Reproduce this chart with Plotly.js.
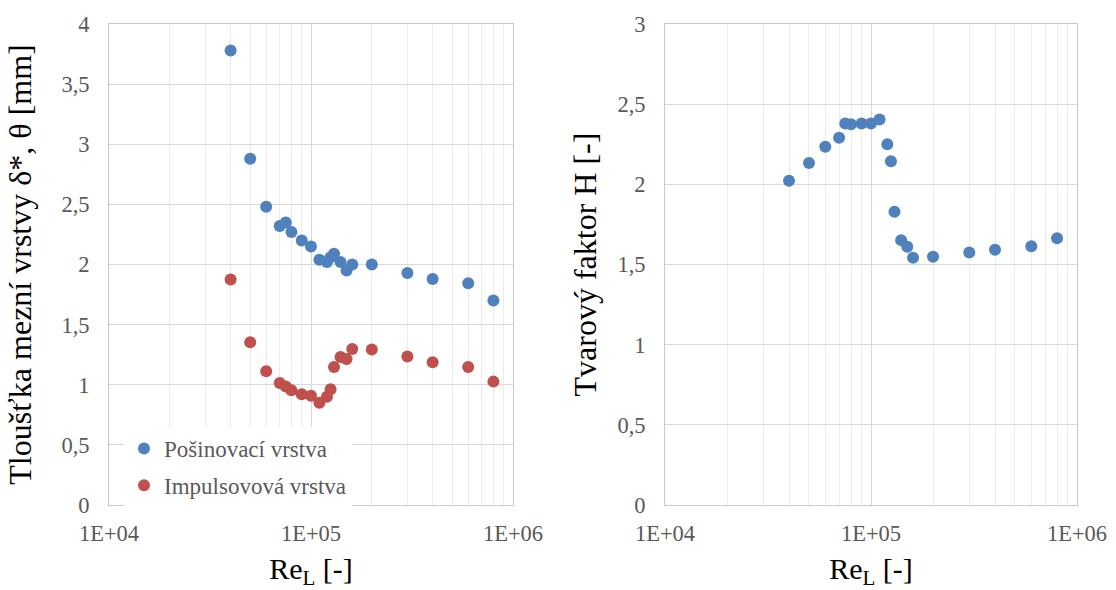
<!DOCTYPE html>
<html>
<head>
<meta charset="utf-8">
<script src="https://cdn.plot.ly/plotly-3.0.1.min.js"></script>
<style>
html,body{margin:0;padding:0;background:#fff;}
#chart{width:1116px;height:590px;}
#chart text{font-family:"Liberation Serif","Times New Roman",serif !important;}
</style>
</head>
<body>
<div id="chart"></div>
<script>
// Reynolds numbers (x)
const reynolds = [40000, 50000, 60000, 70000, 75000, 80000, 90000, 100000, 110000, 120000, 125000, 130000, 140000, 150000, 160000, 200000, 300000, 400000, 600000, 800000];
// Displacement thickness delta* [mm]
const displacementThickness = [3.78, 2.88, 2.48, 2.32, 2.35, 2.27, 2.20, 2.15, 2.04, 2.02, 2.06, 2.09, 2.02, 1.95, 2.00, 2.00, 1.93, 1.88, 1.845, 1.70];
// Momentum thickness theta [mm]
const momentumThickness = [1.875, 1.353, 1.112, 1.015, 0.985, 0.955, 0.921, 0.909, 0.851, 0.90, 0.962, 1.148, 1.231, 1.215, 1.298, 1.293, 1.234, 1.187, 1.148, 1.026];
// Shape factor H [-]
const shapeFactor = [2.023, 2.133, 2.235, 2.29, 2.379, 2.375, 2.379, 2.379, 2.404, 2.25, 2.144, 1.829, 1.652, 1.61, 1.542, 1.548, 1.575, 1.592, 1.614, 1.664];

const seriesNames = ['Pošinovací vrstva', 'Impulsovová vrstva'];
const xTickVals = [1e4, 1e5, 1e6];
const xTickText = ['1E+04', '1E+05', '1E+06'];
const yLeftTickVals = [0, 0.5, 1, 1.5, 2, 2.5, 3, 3.5, 4];
const yLeftTickText = ['0', '0,5', '1', '1,5', '2', '2,5', '3', '3,5', '4'];
const yRightTickVals = [0, 0.5, 1, 1.5, 2, 2.5, 3];
const yRightTickText = ['0', '0,5', '1', '1,5', '2', '2,5', '3'];

const minorVals = [];
[1e4, 1e5].forEach(d => { for (let k = 2; k <= 9; k++) minorVals.push(k * d); });

const FONT = '"Liberation Serif", "Times New Roman", serif';
const BLUE = '#4F81BD', RED = '#C0504D';
const GRID = '#d9d9d9', MINOR = '#ececec', LINE = '#c8c8c8', TICKC = '#595959';
const PAD = '\u00A0\u00A0\u00A0';

const traces = [
  {x: reynolds, y: displacementThickness, type: 'scatter', mode: 'markers', name: seriesNames[0],
   marker: {color: BLUE, size: 12}, xaxis: 'x', yaxis: 'y', legendgroup: 'a'},
  {x: reynolds, y: momentumThickness, type: 'scatter', mode: 'markers', name: seriesNames[1],
   marker: {color: RED, size: 12}, xaxis: 'x', yaxis: 'y', legendgroup: 'b'},
  {x: reynolds, y: shapeFactor, type: 'scatter', mode: 'markers', name: 'H',
   marker: {color: BLUE, size: 12}, xaxis: 'x2', yaxis: 'y2', showlegend: false}
];

function xAxis(domain, anchor) {
  return {
    type: 'log', range: [4, 6], domain: domain, anchor: anchor,
    tickmode: 'array', tickvals: xTickVals, ticktext: xTickText,
    tickfont: {family: FONT, size: 22.5, color: TICKC},
    showgrid: true, gridcolor: GRID, gridwidth: 1,
    minor: {tickmode: 'array', tickvals: minorVals, showgrid: true, gridcolor: MINOR, gridwidth: 1, ticks: ''},
    showline: true, linecolor: LINE, linewidth: 1, mirror: true,
    zeroline: false, ticks: '', automargin: false, ticklabelstandoff: 8,
    title: {text: 'Re<sub>L</sub> [-]', font: {family: FONT, size: 30, color: '#000'}, standoff: 12}
  };
}
function yAxis(domain, anchor, vals, text, range, title, standoff) {
  return {
    range: range, domain: domain, anchor: anchor,
    tickmode: 'array', tickvals: vals, ticktext: text,
    tickfont: {family: FONT, size: 22.5, color: TICKC},
    showgrid: true, gridcolor: GRID, gridwidth: 1,
    showline: true, linecolor: LINE, linewidth: 1, mirror: true,
    zeroline: false, ticks: '', automargin: false, ticklabelstandoff: 14,
    title: {text: title + PAD, font: {family: FONT, size: 32, color: '#000'}, standoff: standoff}
  };
}

const layout = {
  width: 1116, height: 590,
  margin: {l: 0, r: 0, t: 24, b: 85},
  paper_bgcolor: '#fff', plot_bgcolor: '#fff',
  showlegend: true,
  font: {family: FONT},
  xaxis: xAxis([109/1116, 513/1116], 'y'),
  yaxis: yAxis([0, 1], 'x', yLeftTickVals, yLeftTickText, [0, 4], 'Tloušťka mezní vrstvy δ*, θ [mm]', 20),
  xaxis2: xAxis([665/1116, 1077/1116], 'y2'),
  yaxis2: yAxis([0, 1], 'x2', yRightTickVals, yRightTickText, [0, 3], 'Tvarový faktor H [-]', 11),
  legend: {x: 124/1116, xanchor: 'left', y: (505-427)/481, yanchor: 'top',
           bgcolor: '#fff', borderwidth: 0, tracegroupgap: 4,
           font: {family: FONT, size: 23, color: TICKC}}
};

Plotly.newPlot('chart', traces, layout, {displayModeBar: false, staticPlot: true});
</script>
</body>
</html>
